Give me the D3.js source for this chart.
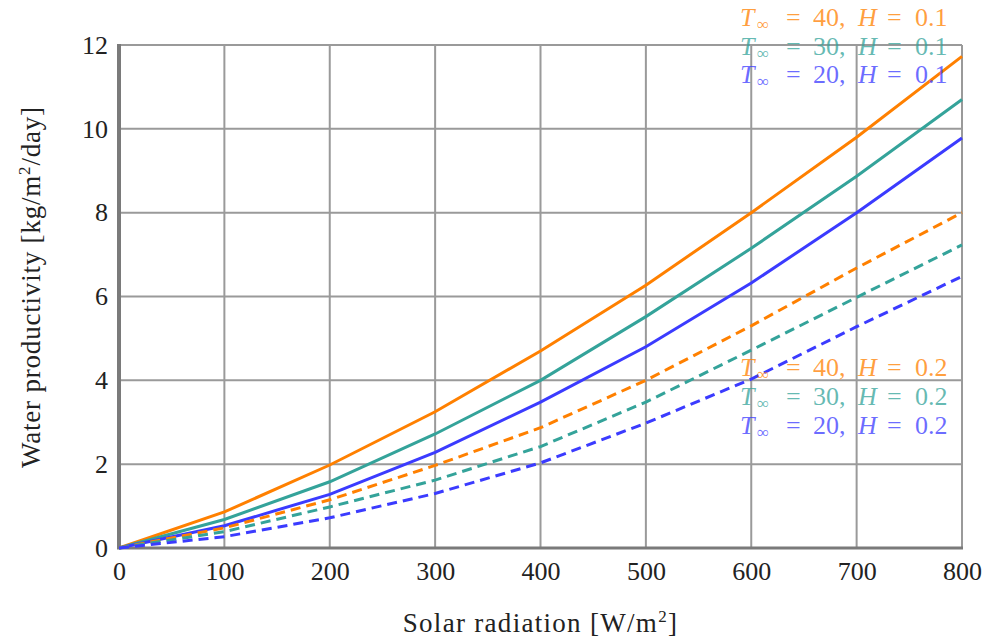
<!DOCTYPE html>
<html>
<head>
<meta charset="utf-8">
<script src="https://cdn.jsdelivr.net/npm/d3@7"></script>
<style>
  body { margin: 0; background: #fff; }
  text { font-family: "Liberation Serif", "DejaVu Serif", serif; }
</style>
</head>
<body>
<script>
// solar radiation (W/m2) sampled every 100
var radiation = [0, 100, 200, 300, 400, 500, 600, 700, 800];

// water productivity, H = 0.1 (solid)
var h01_T40 = [0, 0.86, 1.98, 3.25, 4.70, 6.27, 8.00, 9.80, 11.73];
var h01_T30 = [0, 0.68, 1.58, 2.72, 4.00, 5.52, 7.15, 8.87, 10.70];
var h01_T20 = [0, 0.53, 1.28, 2.28, 3.48, 4.80, 6.32, 8.00, 9.78];

// water productivity, H = 0.2 (dashed)
var h02_T40 = [0, 0.48, 1.15, 1.97, 2.87, 4.00, 5.30, 6.68, 8.00];
var h02_T30 = [0, 0.39, 0.98, 1.62, 2.42, 3.48, 4.72, 5.98, 7.23];
var h02_T20 = [0, 0.27, 0.72, 1.30, 2.03, 2.98, 4.03, 5.28, 6.48];

var xTicks = [0, 100, 200, 300, 400, 500, 600, 700, 800];
var yTicks = [0, 2, 4, 6, 8, 10, 12];
var temps = [40, 30, 20];

var chart = {
  width: 986,
  height: 644,
  left: 119,
  right: 962,
  top: 45,
  bottom: 548
};
var colors = { 40: "#ff8000", 30: "#34a39a", 20: "#3b3bff" };

var svg = d3.select('body').append('svg').attr('width', chart.width).attr('height', chart.height);

var x = d3.scaleLinear().domain([0, 800]).range([chart.left, chart.right]);
var y = d3.scaleLinear().domain([0, 12]).range([chart.bottom, chart.top]);

// grid
svg.append('g').selectAll('line').data(xTicks.slice(1)).enter().append('line')
  .attr('x1', d => x(d)).attr('x2', d => x(d)).attr('y1', chart.top).attr('y2', chart.bottom)
  .attr('stroke', '#9a9a9a').attr('stroke-width', 2);
svg.append('g').selectAll('line').data(yTicks.slice(1)).enter().append('line')
  .attr('y1', d => y(d)).attr('y2', d => y(d)).attr('x1', chart.left).attr('x2', chart.right)
  .attr('stroke', '#9a9a9a').attr('stroke-width', 2);

// axes (left + bottom are heavier)
svg.append('line').attr('x1', chart.left).attr('x2', chart.left).attr('y1', chart.top - 1).attr('y2', chart.bottom + 1)
  .attr('stroke', '#7a7a7a').attr('stroke-width', 4);
svg.append('line').attr('x1', chart.left - 2).attr('x2', chart.right + 1).attr('y1', chart.bottom).attr('y2', chart.bottom)
  .attr('stroke', '#7a7a7a').attr('stroke-width', 3);

var xAxis = d3.axisBottom(x).tickValues(xTicks).tickSize(0).tickPadding(14);
svg.append('g').attr('transform', 'translate(0,' + chart.bottom + ')').call(xAxis)
  .call(g => g.select('.domain').remove())
  .selectAll('text').attr('font-size', 26).attr('fill', '#222')
  .style('font-family', '"Liberation Serif", serif');

var yAxis = d3.axisLeft(y).tickValues(yTicks).tickSize(0).tickPadding(11);
svg.append('g').attr('transform', 'translate(' + chart.left + ',0)').call(yAxis)
  .call(g => g.select('.domain').remove())
  .selectAll('text').attr('font-size', 26).attr('fill', '#222')
  .style('font-family', '"Liberation Serif", serif');

// lines
var series = [
  { t: 40, v: h01_T40, dash: null },
  { t: 30, v: h01_T30, dash: null },
  { t: 20, v: h01_T20, dash: null },
  { t: 40, v: h02_T40, dash: "10,6" },
  { t: 30, v: h02_T30, dash: "10,6" },
  { t: 20, v: h02_T20, dash: "10,6" }
];
var line = d3.line().x((d, i) => x(radiation[i])).y(d => y(d));
series.forEach(function(s) {
  svg.append('path').attr('d', line(s.v)).attr('fill', 'none')
    .attr('stroke', colors[s.t]).attr('stroke-width', 3)
    .attr('stroke-dasharray', s.dash);
});

// labels near the curves
var labelRows = [
  { t: 40, h: "0.1", base: 26 }, { t: 30, h: "0.1", base: 55 }, { t: 20, h: "0.1", base: 83 },
  { t: 40, h: "0.2", base: 376 }, { t: 30, h: "0.2", base: 405 }, { t: 20, h: "0.2", base: 434 }
];
labelRows.forEach(function(r) {
  var t = svg.append('text').attr('y', r.base).attr('font-size', 26)
    .attr('fill', colors[r.t]).attr('fill-opacity', 0.75);
  t.append('tspan').attr('x', 740).attr('font-style', 'italic').text('T');
  t.append('tspan').attr('x', 757).attr('dy', 4).attr('font-size', 17).text('∞');
  t.append('tspan').attr('x', 786).attr('dy', -4).text('=');
  t.append('tspan').attr('x', 813).text(r.t + ',');
  t.append('tspan').attr('x', 858).attr('font-style', 'italic').text('H');
  t.append('tspan').attr('x', 887).text('=');
  t.append('tspan').attr('x', 915).text(r.h);
});

// axis titles
var xt = svg.append('text').attr('x', (chart.left + chart.right) / 2).attr('y', 632)
  .attr('text-anchor', 'middle').attr('font-size', 27).attr('fill', '#222')
  .attr('letter-spacing', 1.3);
xt.append('tspan').text('Solar radiation [W/m');
xt.append('tspan').attr('dy', -10).attr('font-size', 17).text('2');
xt.append('tspan').attr('dy', 10).text(']');

var yt = svg.append('text').attr('transform', 'translate(40,287) rotate(-90)')
  .attr('text-anchor', 'middle').attr('font-size', 27).attr('fill', '#222')
  .attr('letter-spacing', 0.8);
yt.append('tspan').text('Water productivity [kg/m');
yt.append('tspan').attr('dy', -10).attr('font-size', 17).text('2');
yt.append('tspan').attr('dy', 10).text('/day]');
</script>
</body>
</html>
